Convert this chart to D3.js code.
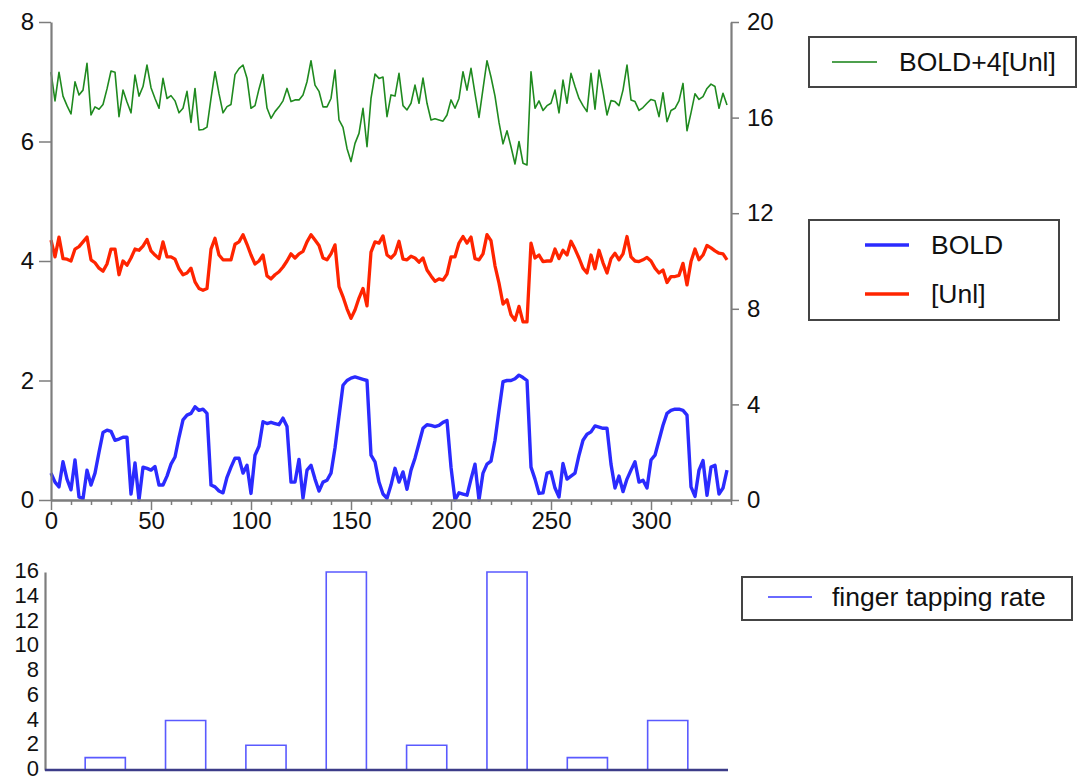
<!DOCTYPE html>
<html><head><meta charset="utf-8">
<script src="https://cdn.jsdelivr.net/npm/d3@7"></script>
<style>
html,body{margin:0;padding:0;background:#fff;}
text{font-family:"Liberation Sans",Arial,Helvetica,sans-serif;}
</style></head>
<body>
<script>
// ---- data ----
const timeStep = 2;            // sample spacing
const timeMax = 338;           // last sample
const boldValues = [
0.45,0.3,0.22,0.64,0.35,0.17,0.67,0.05,0.02,0.5,
0.25,0.45,0.8,1.13,1.17,1.15,1.0,1.02,1.05,1.05,
0.1,0.62,0.0,0.55,0.53,0.5,0.56,0.25,0.25,0.4,
0.6,0.72,1.05,1.34,1.42,1.45,1.56,1.5,1.52,1.45,
0.25,0.22,0.15,0.12,0.38,0.55,0.7,0.7,0.45,0.58,
0.11,0.75,0.9,1.31,1.28,1.3,1.28,1.26,1.37,1.23,
0.3,0.3,0.68,0.03,0.5,0.58,0.35,0.15,0.3,0.33,
0.45,0.87,1.4,1.92,2.0,2.04,2.06,2.04,2.02,2.0,
0.75,0.64,0.3,0.1,0.03,0.25,0.53,0.3,0.47,0.18,
0.5,0.7,0.95,1.2,1.26,1.25,1.23,1.25,1.3,1.33,
0.55,0.0,0.12,0.1,0.08,0.35,0.6,0.0,0.45,0.6,
0.65,1.0,1.5,1.98,2.0,2.0,2.03,2.09,2.05,2.0,
0.55,0.35,0.11,0.12,0.45,0.47,0.2,0.05,0.61,0.35,
0.4,0.45,0.75,1.0,1.1,1.14,1.24,1.22,1.2,1.2,
0.6,0.2,0.4,0.14,0.35,0.5,0.64,0.3,0.33,0.2,
0.67,0.75,1.0,1.25,1.45,1.5,1.52,1.52,1.5,1.42,
0.22,0.06,0.5,0.66,0.08,0.55,0.58,0.1,0.2,0.5];
const unlValues = [
4.35,4.07,4.4,4.04,4.03,4.0,4.2,4.24,4.32,4.4,
4.02,3.97,3.88,3.83,3.95,4.2,4.2,3.77,4.0,3.93,
4.05,4.2,4.18,4.25,4.36,4.17,4.1,4.04,4.32,4.07,
4.07,4.03,3.87,3.77,3.8,3.88,3.65,3.54,3.51,3.54,
4.2,4.38,4.1,4.02,4.02,4.02,4.28,4.32,4.44,4.28,
4.1,3.95,4.0,4.1,3.75,3.7,3.77,3.82,3.9,4.0,
4.12,4.05,4.12,4.16,4.32,4.44,4.35,4.26,4.05,4.02,
4.12,4.27,3.57,3.4,3.2,3.04,3.18,3.38,3.54,3.25,
4.15,4.32,4.3,4.42,4.1,4.05,4.12,4.33,4.03,4.02,
4.08,4.05,3.98,4.05,3.85,3.75,3.66,3.7,3.68,3.78,
4.07,4.07,4.3,4.41,4.3,4.4,4.04,4.02,4.12,4.44,
4.34,3.92,3.63,3.28,3.35,3.1,3.01,3.24,2.98,2.98,
4.3,4.05,4.1,3.99,4.0,4.0,4.2,4.04,4.18,4.1,
4.33,4.2,4.05,3.88,3.8,4.1,3.87,4.18,3.97,3.8,
4.04,4.13,4.02,4.12,4.41,4.07,4.0,3.99,4.02,4.06,
4.0,3.88,3.8,3.85,3.64,3.74,3.74,3.76,3.96,3.6,
3.99,4.2,4.02,4.1,4.26,4.22,4.17,4.13,4.12,4.02];
const sumValues = [   // BOLD+4[Unl], right axis
17.9,16.7,17.9,16.9,16.5,16.15,17.5,16.95,17.15,18.27,
16.11,16.45,16.35,16.55,17.2,17.95,17.9,16.04,17.15,16.65,
16.2,17.78,16.9,17.3,18.2,17.25,16.8,16.39,17.64,16.8,
16.92,16.7,16.2,16.39,17.1,15.8,17.22,15.48,15.5,15.6,
16.8,17.92,17.0,16.2,16.46,16.55,17.8,18.05,18.2,17.65,
16.39,16.5,17.2,17.8,16.4,15.97,16.25,16.45,16.7,17.22,
16.67,16.74,16.74,16.95,17.5,18.38,17.36,17.1,16.45,16.45,
16.8,17.99,15.9,15.59,14.71,14.16,14.92,15.34,16.39,14.78,
16.8,17.82,17.64,17.7,16.04,16.95,16.9,17.85,16.5,16.32,
16.6,17.36,16.6,17.65,16.6,15.9,15.95,15.9,15.85,16.11,
16.74,16.39,16.8,17.92,17.15,18.06,17.0,16.01,17.2,18.38,
17.7,16.9,15.8,14.9,15.45,14.78,14.06,15.0,14.09,14.02,
17.92,16.39,16.7,16.3,16.5,16.6,17.15,16.2,17.57,16.6,
17.85,17.3,16.8,16.5,16.25,17.85,16.35,17.99,17.1,16.11,
16.71,16.67,16.5,17.15,18.2,16.74,16.67,16.3,16.42,16.6,
16.76,16.7,16.04,17.04,15.83,16.3,16.39,16.7,17.43,15.45,
16.2,17.0,16.76,16.88,17.22,17.4,17.3,16.39,17.02,16.53];
const tapBlockStarts = [0,20,40,60,80,100,120,140,160,180,200,220,240,260,280,300,320];
const tapRates       = [0,1,0,4,0,2,0,16,0,2,0,16,0,1,0,4,0];
const tapEnd = 340;
const xTicks = [0,50,100,150,200,250,300];
const xMinorTicks = d3.range(0,341,10).filter(v => v % 50 !== 0);
const leftTicks = [0,2,4,6,8];
const rightTicks = [0,4,8,12,16,20];
const tapTicks = [0,2,4,6,8,10,12,14,16];
const seriesNames = ["BOLD+4[Unl]","BOLD","[Unl]","finger tapping rate"];

const times = d3.range(0, timeMax + 1, timeStep);

// ---- drawing ----
const W = 1078, H = 781;
const svg = d3.select("body").append("svg").attr("width", W).attr("height", H);
const AX = "#7d7d7d", FS = 24;

const x = d3.scaleLinear([0,340],[51,731]);
const yL = d3.scaleLinear([0,8],[500,22]);
const yR = d3.scaleLinear([0,20],[500,22]);

function styleAxis(g, fs){
  g.select(".domain").attr("stroke", AX).attr("stroke-width", 2.2);
  g.selectAll(".tick line").attr("stroke", AX).attr("stroke-width", 1.5);
  g.selectAll(".tick text").attr("fill", "#111").style("font-size", (fs || FS) + "px")
    .style("font-family", '"Liberation Sans",Arial,sans-serif');
}

// lines
const lineL = d3.line().x((d,i)=>x(times[i])).y(d=>yL(d));
const lineR = d3.line().x((d,i)=>x(times[i])).y(d=>yR(d));
svg.append("path").attr("d", lineR(sumValues)).attr("fill","none")
  .attr("stroke","#1f8a1f").attr("stroke-width",1.6).attr("stroke-linejoin","round");
svg.append("path").attr("d", lineL(unlValues)).attr("fill","none")
  .attr("stroke","#ff2400").attr("stroke-width",3.3).attr("stroke-linejoin","round");
svg.append("path").attr("d", lineL(boldValues)).attr("fill","none")
  .attr("stroke","#2b2bff").attr("stroke-width",3.4).attr("stroke-linejoin","round");

// axes
svg.append("g").attr("transform","translate(51,0)")
  .call(d3.axisLeft(yL).tickValues(leftTicks).tickSize(12).tickPadding(5).tickSizeOuter(0))
  .call(g => styleAxis(g));
svg.append("g").attr("transform","translate(731,0)")
  .call(d3.axisRight(yR).tickValues(rightTicks).tickSize(8).tickPadding(8).tickSizeOuter(0))
  .call(g => styleAxis(g));
svg.append("g").attr("transform","translate(0,500)")
  .call(d3.axisBottom(x).tickValues(xMinorTicks).tickSize(5).tickFormat("").tickSizeOuter(0))
  .call(g => styleAxis(g));
svg.append("g").attr("transform","translate(0,500)")
  .call(d3.axisBottom(x).tickValues(xTicks).tickSize(10).tickPadding(2).tickSizeOuter(0))
  .call(g => styleAxis(g));

// bottom chart
const xb = d3.scaleLinear([0,340],[45,728]);
const yb = d3.scaleLinear([0,16],[770,572]);
const stepPts = tapBlockStarts.map((t,i)=>[t,tapRates[i]]).concat([[tapEnd, tapRates[tapRates.length-1]]]);
const stepLine = d3.line().x(d=>xb(d[0])).y(d=>yb(d[1])).curve(d3.curveStepAfter);
svg.append("path").attr("d", stepLine(stepPts)).attr("fill","none")
  .attr("stroke","#5a5aff").attr("stroke-width",1.6);
svg.append("g").attr("transform","translate(45,0)")
  .call(d3.axisLeft(yb).tickValues(tapTicks).tickSize(0).tickPadding(6).tickSizeOuter(0))
  .call(g => styleAxis(g, 22))
  .call(g => g.selectAll(".tick text").attr("dy","0.25em"));
svg.append("line").attr("x1",xb(0)).attr("x2",xb(340)).attr("y1",yb(0)).attr("y2",yb(0))
  .attr("stroke","#3c3c88").attr("stroke-width",2.6);

// legends
function legendBox(x0,y0,w,h){
  svg.append("rect").attr("x",x0).attr("y",y0).attr("width",w).attr("height",h)
    .attr("fill","#fff").attr("stroke","#444").attr("stroke-width",2);
}
function legendItem(lx1,lx2,ly,color,sw,tx,label){
  svg.append("line").attr("x1",lx1).attr("x2",lx2).attr("y1",ly).attr("y2",ly)
    .attr("stroke",color).attr("stroke-width",sw);
  svg.append("text").attr("x",tx).attr("y",ly).attr("dy","0.35em")
    .style("font-size","26.5px").attr("fill","#111").text(label);
}
legendBox(809,37,267,50);
legendItem(832,877,62,"#4ea04e",2,899,seriesNames[0]);
legendBox(809,220,250,100);
legendItem(865,909,245,"#2b2bff",3.4,931,seriesNames[1]);
legendItem(865,909,294,"#ff2400",3.4,931,seriesNames[2]);
legendBox(742,577,330,43);
legendItem(768,812,597,"#6a6aff",2,832,seriesNames[3]);
</script>
</body></html>
